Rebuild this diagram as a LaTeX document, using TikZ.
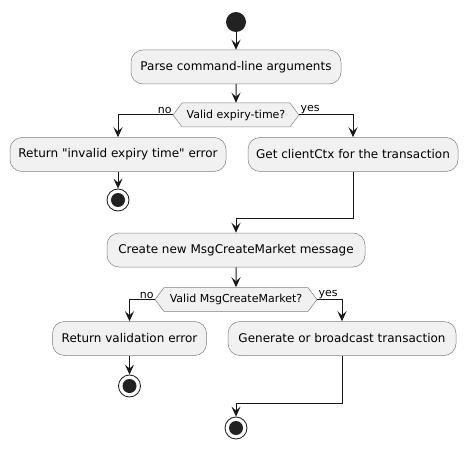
\documentclass[tikz,border=0pt]{standalone}
\usepackage{fontspec}
\setmainfont{DejaVu Sans}
\usetikzlibrary{arrows.meta,shapes.symbols}
\definecolor{boxfill}{HTML}{F1F1F1}
\definecolor{linecol}{HTML}{181818}
\definecolor{dotcol}{HTML}{222222}

\begin{document}
\begin{tikzpicture}[x=1pt,y=-1pt,
	action/.style={draw=black!50, line width=0.5pt, fill=boxfill,
		rounded corners=12pt, minimum height=34pt, inner sep=0pt,
		font=\fontsize{12}{14}\selectfont},
	check/.style={signal, signal to=east and west, signal pointer angle=106,
		draw=black!50, line width=0.5pt, fill=boxfill, minimum height=24pt,
		inner xsep=4pt, font=\fontsize{11}{13}\selectfont},
	startdot/.style={circle, fill=dotcol, minimum size=20pt, inner sep=0pt},
	stopdot/.style={circle, draw=linecol, line width=0.8pt, fill=white,
		minimum size=22pt, inner sep=0pt,
		path picture={\fill[dotcol] (path picture bounding box.center) circle (7pt);}},
	flow/.style={draw=linecol, line width=1pt,
		-{Stealth[length=10pt,width=9pt,inset=4pt]}},
	branch/.style={font=\fontsize{11}{13}\selectfont, inner sep=1pt}]
	\useasboundingbox (0,0) rectangle (468,449);
	% start und parsen
	\node[startdot] (start) at (236,22) {};
	\node[action, minimum width=210pt] (parse) at (236,67)
		{Parse command-line arguments};
	% erste pruefung
	\node[check, minimum width=126pt] (expiry) at (236,115) {Valid expiry-time?};
	\node[action, minimum width=216pt] (badexpiry) at (118,154.5)
		{Return \textquotedbl invalid expiry time\textquotedbl\ error};
	\node[stopdot] (stopa) at (118,200) {};
	\node[action, minimum width=210pt] (clientctx) at (353,154.5)
		{Get clientCtx for the transaction};
	\coordinate (joina) at (236,218);
	% nachricht bauen
	\node[action, minimum width=258pt] (newmsg) at (236,250)
		{Create new MsgCreateMarket message};
	% zweite pruefung
	\node[check, minimum width=162pt] (validmsg) at (236,299.5)
		{Valid MsgCreateMarket?};
	\node[action, minimum width=154pt] (badmsg) at (129.5,338.5)
		{Return validation error};
	\node[stopdot] (stopb) at (129.5,386) {};
	\node[action, minimum width=228pt] (broadcast) at (342,338.5)
		{Generate or broadcast transaction};
	\coordinate (joinb) at (236,403);
	\node[stopdot] (stopc) at (236,428) {};
	% pfeile
	\draw[flow] (start) -- (parse);
	\draw[flow] (parse) -- (expiry);
	\draw[flow] (expiry.west) -| (badexpiry.north);
	\draw[flow] (expiry.east) -| (clientctx.north);
	\draw[flow] (badexpiry) -- (stopa);
	\draw[flow] (clientctx.south) |- (joina) -- (newmsg);
	\draw[flow] (newmsg) -- (validmsg);
	\draw[flow] (validmsg.west) -| (badmsg.north);
	\draw[flow] (validmsg.east) -| (broadcast.north);
	\draw[flow] (badmsg) -- (stopb);
	\draw[flow] (broadcast.south) |- (joinb) -- (stopc);
	% beschriftung der zweige
	\node[branch, anchor=south east] (noa) at (expiry.west) {no};
	\node[branch, anchor=south west] (yesa) at (expiry.east) {yes};
	\node[branch, anchor=south east] (nob) at (validmsg.west) {no};
	\node[branch, anchor=south west] (yesb) at (validmsg.east) {yes};
\end{tikzpicture}
\end{document}
